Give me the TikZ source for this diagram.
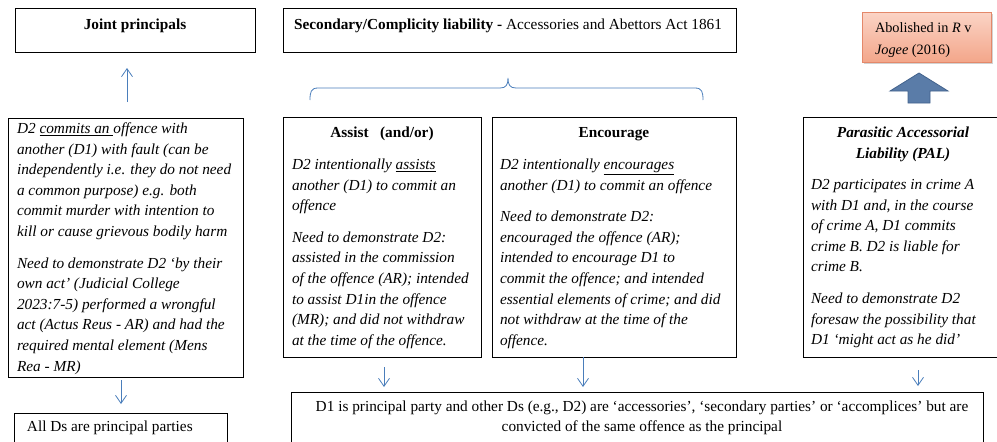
\documentclass[tikz,border=0pt]{standalone}
\usepackage{fontspec}
\setmainfont{Liberation Serif}
\usetikzlibrary{arrows.meta,calc,shadows}
\definecolor{conncol}{RGB}{74,126,187}
\definecolor{abolfillA}{RGB}{251,212,198}
\definecolor{abolfillB}{RGB}{243,166,138}
\definecolor{abolline}{RGB}{228,136,106}
\definecolor{blockfill}{RGB}{90,124,168}
\definecolor{blockline}{RGB}{66,98,140}
\newcommand\tlines[1]{\begin{tabular}[t]{@{}l@{}}#1\end{tabular}}
\newcommand\clines[1]{\begin{tabular}[t]{@{}c@{}}#1\end{tabular}}
\newcommand\pgap{\\[11pt]}
\begin{document}
\begin{tikzpicture}[x=1pt,y=-1pt,
  every node/.style={font=\fontsize{15.3}{20.6}\selectfont, inner sep=0pt, outer sep=0pt},
  box/.style={draw=black, line width=0.8pt, anchor=north west, rectangle},
  lbl/.style={anchor=base west},
  conn/.style={draw=conncol, line width=0.8pt, -{Straight Barb[length=8pt,width=11pt,line width=0.8pt]}}
]
\useasboundingbox (0,0) rectangle (997,442);
\clip (0,0) rectangle (997,442);

% top boxes
\node[box, minimum width=240pt, minimum height=44pt] (jp) at (15,8) {};
\node[anchor=base] (jpl) at (135,29) {\bfseries Joint principals};

\node[box, minimum width=453pt, minimum height=44pt] (sec) at (283,8) {};
\node[anchor=base] (secl) at (508,29) {\textbf{Secondary/Complicity liability -} Accessories and Abettors Act 1861};

\node[box, draw=abolline, line width=0.8pt, top color=abolfillA, bottom color=abolfillB,
      drop shadow={shadow xshift=2pt, shadow yshift=-2pt, fill=black!35},
      minimum width=129pt, minimum height=50pt] (abol) at (862,12) {};
\node[lbl, font=\fontsize{14.3}{20.6}\selectfont] (abolt) at (875,32) {\tlines{Abolished in \textit{R} v\\[1.4pt] \textit{Jogee} (2016)}};

% brace
\draw[conncol, line width=0.8pt] (310,100) .. controls (310,92) and (311,88) .. (318,88)
  -- (500,88) .. controls (506,88) and (508,85) .. (508,78)
  .. controls (508,85) and (510,88) .. (516,88)
  -- (695,88) .. controls (702,88) and (703,92) .. (703,100);

% block arrow
\draw[fill=blockfill, draw=blockline, line width=0.8pt, line join=miter]
  (919,73) -- (948,91) -- (930,91) -- (930,103) -- (908,103) -- (908,91) -- (890,91) -- cycle;

% D2 box
\node[box, minimum width=235pt, minimum height=259pt] (d2box) at (8,118) {};
\node[lbl] (d2txt) at (17,133.5) {\itshape\tlines{%
D2 \underline{commits an\ }offence with\\
another (D1) with fault (can be\\
independently i.e. they do not need\\
a common purpose) e.g. both\\
commit murder with intention to\\
kill or cause grievous bodily harm\pgap
Need to demonstrate D2 ‘by their\\
own act’ (Judicial College\\
2023:7-5) performed a wrongful\\
act (Actus Reus - AR) and had the\\
required mental element (Mens\\
Rea - MR)}};

\node[box, minimum width=213pt, minimum height=40pt] (alld) at (14,413) {};
\node[lbl] (alldt) at (27,431) {All Ds are principal parties};

% Assist
\node[box, minimum width=198pt, minimum height=240pt] (assist) at (283,117) {};
\node[anchor=base] (assistt) at (382,137.5) {\bfseries Assist\ \ \ (and/or)};
\node[lbl] (assisttx) at (292,169.5) {\itshape\tlines{%
D2 intentionally \underline{assists}\\
another (D1) to commit an\\
offence\pgap
Need to demonstrate D2:\\
assisted in the commission\\
of the offence (AR); intended\\
to assist D1in the offence\\
(MR); and did not withdraw\\
at the time of the offence.}};

% Encourage
\node[box, minimum width=244pt, minimum height=240pt] (enc) at (492,117) {};
\node[anchor=base] (enct) at (614,137.5) {\bfseries Encourage};
\node[lbl] (enctx) at (500,169.5) {\itshape\tlines{%
D2 intentionally \underline{encourages}\\
another (D1) to commit an offence\pgap
Need to demonstrate D2:\\
encouraged the offence (AR);\\
intended to encourage D1 to\\
commit the offence; and intended\\
essential elements of crime; and did\\
not withdraw at the time of the\\
offence.}};

% PAL
\node[box, minimum width=200pt, minimum height=240pt] (pal) at (803,117) {};
\node[anchor=base] (palt) at (903,137.5) {\bfseries\itshape\clines{Parasitic Accessorial\\Liability (PAL)}};
\node[lbl] (paltx) at (811,189.5) {\itshape\tlines{%
D2 participates in crime A\\
with D1 and, in the course\\
of crime A, D1 commits\\
crime B. D2 is liable for\\
crime B.\pgap
Need to demonstrate D2\\
foresaw the possibility that\\
D1 ‘might act as he did’}};

% bottom box
\node[box, minimum width=692pt, minimum height=60pt] (big) at (291,392) {};
\node[anchor=base] (bigt) at (642,411) {\clines{D1 is principal party and other Ds (e.g., D2) are ‘accessories’, ‘secondary parties’ or ‘accomplices’ but are\\
convicted of the same offence as the principal}};

% connectors
\draw[conn] ($(d2box.north)+(1.5,-16)$) -- ($(jp.south -| d2box.north)+(1.5,16)$);
\draw[conn] ($(d2box.south)+(-4.5,3)$) -- ($(alld.north -| d2box.south)+(-4.5,-9)$);
\draw[conn] ($(assist.south)+(2,10)$) -- ($(big.north -| assist.south)+(2,-5)$);
\draw[conn] ($(enc.south)+(-31,0)$) -- ($(big.north -| enc.south)+(-31,-5)$);
\draw[conn] ($(pal.south)+(15,13)$) -- ($(big.north -| pal.south)+(15,-6)$);
\end{tikzpicture}
\end{document}
